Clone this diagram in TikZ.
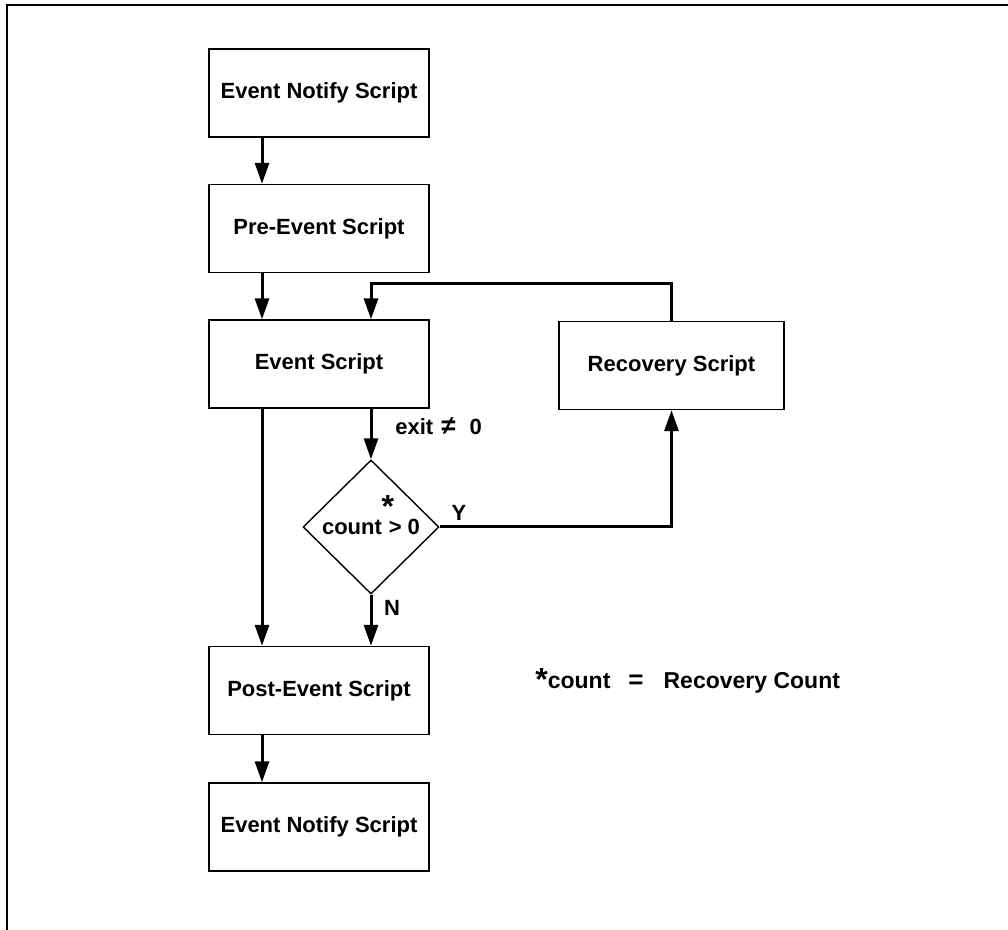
\documentclass[tikz,border=0pt]{standalone}
\usepackage{fontspec}
\setmainfont{Liberation Sans}
\usetikzlibrary{arrows.meta,shapes.geometric}
\newcommand{\starmark}{{\fontsize{16}{16}\selectfont\bfseries *}}
\begin{document}
\begin{tikzpicture}[x=0.5pt,y=-0.5pt,
  font=\fontsize{11}{13}\selectfont\bfseries,
  block/.style={draw,line width=0.7pt,minimum width=110pt,minimum height=44pt,inner sep=0pt},
  test/.style={draw,diamond,line width=0.7pt,minimum width=68pt,minimum height=67pt,inner sep=0pt},
  flow/.style={line width=1.5pt,-{Triangle[length=10.5pt,width=7pt]}},
  tag/.style={inner sep=0pt}]
  % page area and frame
  \useasboundingbox (0,0) rectangle (1008,930);
  \coordinate (frameTL) at (7,5);
  \coordinate (frameTR) at (1008,5);
  \coordinate (frameBL) at (7,930);
  \draw[line width=1pt] (frameTR) -- (frameTL) -- (frameBL);

  % script blocks
  \node[block] (notify1) at (319,93)    {Event Notify Script};
  \node[block] (pre)     at (319,228.5) {Pre-Event Script};
  \node[block] (event)   at (319,364)   {Event Script};
  \node[block,minimum width=112.5pt] (recovery) at (671.5,365.5) {Recovery Script};
  \node[test]  (check)   at (371,527)
    {\raisebox{-1pt}{count\hspace{3pt}\makebox[0pt]{\raisebox{8.5pt}[0pt][0pt]{\starmark}}\hspace{0.5pt}{>}\hspace{3pt}0}};
  \node[block] (post)    at (319,690.5) {Post-Event Script};
  \node[block] (notify2) at (319,827)   {Event Notify Script};

  % main chain
  \draw[flow] ([xshift=-28.5pt]notify1.south) -- ([xshift=-28.5pt]pre.north);
  \draw[flow] ([xshift=-28.5pt]pre.south) -- ([xshift=-28.5pt]event.north);
  \draw[flow] ([xshift=-28.5pt]event.south) -- ([xshift=-28.5pt]post.north);
  \draw[flow] ([xshift=-28.5pt]post.south) -- ([xshift=-28.5pt]notify2.north);

  % failure branch
  \draw[flow] ([xshift=26pt]event.south) -- (check.north);
  \node[tag,anchor=base west] (exitlbl) at (395,435) {exit\hspace{4pt}{\fontsize{13}{13}\selectfont ≠}\hspace{7pt}0};
  \draw[flow] (check.east) -| (recovery.south);
  \node[tag] (ylbl) at (459,513) {Y};
  \draw[flow] (check.south) -- ([xshift=26pt]post.north);
  \node[tag] (nlbl) at (392,608) {N};
  \draw[flow] (recovery.north) -- ++(0,-37) -| ([xshift=26pt]event.north);

  % footnote
  \node[tag,anchor=base west] (note) at (535,689)
    {\raisebox{-1pt}{\starmark}{\fontsize{11.5}{13}\selectfont count\hspace{9pt}{\fontsize{13}{13}\selectfont =}\hspace{10pt}Recovery Count}};
\end{tikzpicture}
\end{document}
